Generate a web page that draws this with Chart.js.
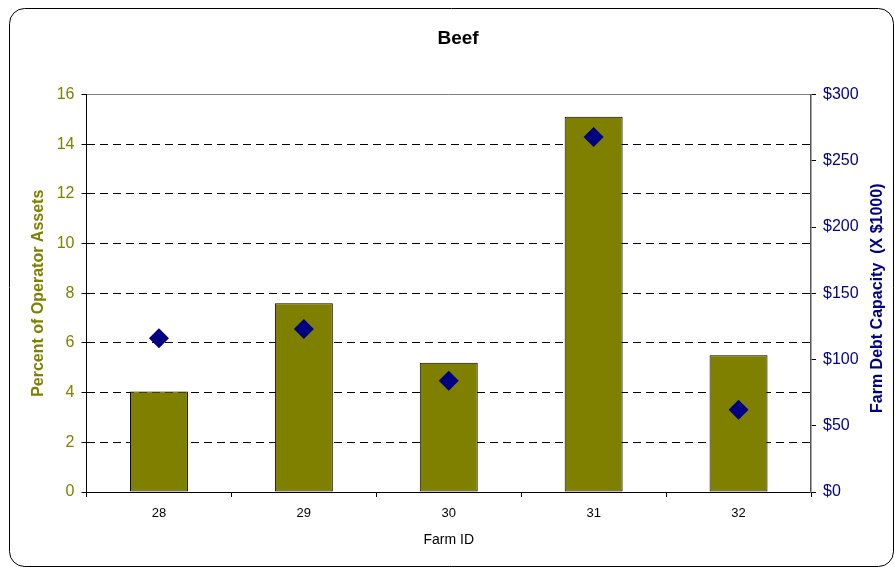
<!DOCTYPE html>
<html>
<head>
<meta charset="utf-8">
<script src="https://cdn.jsdelivr.net/npm/chart.js@4.4.7/dist/chart.umd.js"></script>
<style>
  html, body { margin: 0; padding: 0; background: #fff; }
  #wrap { position: relative; width: 894px; height: 567px; }
</style>
</head>
<body>
<div id="wrap"><canvas id="beefChart" width="894" height="567"></canvas></div>
<script>
// 数据
const farmIds = ["28", "29", "30", "31", "32"];
const operatorAssetsPct = [4.05, 7.6, 5.2, 15.1, 5.5];
const debtCapacity = [116, 123, 84, 268, 62];
const leftTicks = [0, 2, 4, 6, 8, 10, 12, 14, 16];
const rightTicks = [0, 50, 100, 150, 200, 250, 300];

const OLIVE = "#808000";
const NAVY = "#000080";
const FONT = "'Liberation Sans', Arial, sans-serif";

// 外框圆角矩形 + 右侧轴标题(自下而上)
const framePlugin = {
  id: "frame",
  beforeDraw(chart) {
    const ctx = chart.ctx;
    ctx.save();
    ctx.fillStyle = "#fff";
    ctx.fillRect(0, 0, chart.width, chart.height);
    ctx.beginPath();
    ctx.roundRect(9.5, 8.5, 884, 558, 15);
    ctx.strokeStyle = "#000";
    ctx.lineWidth = 1;
    ctx.stroke();
    ctx.restore();
  },
  afterDraw(chart) {
    const ctx = chart.ctx;
    const area = chart.chartArea;
    ctx.save();
    ctx.translate(877.5, (area.top + area.bottom) / 2 + 5);
    ctx.rotate(-Math.PI / 2);
    ctx.font = "bold 16px " + FONT;
    ctx.fillStyle = NAVY;
    ctx.textAlign = "center";
    ctx.textBaseline = "middle";
    ctx.fillText("Farm Debt Capacity  (X $1000)", 0, 0);
    ctx.restore();
  }
};

new Chart(document.getElementById("beefChart"), {
  type: "bar",
  data: {
    labels: farmIds,
    datasets: [
      {
        type: "line",
        label: "Farm Debt Capacity",
        data: debtCapacity,
        yAxisID: "y1",
        showLine: false,
        pointStyle: "rectRot",
        pointRadius: 10,
        pointBackgroundColor: NAVY,
        pointBorderColor: NAVY,
        pointBorderWidth: 0,
        order: 0
      },
      {
        label: "Percent of Operator Assets",
        data: operatorAssetsPct,
        yAxisID: "y",
        backgroundColor: OLIVE,
        borderColor: "#000",
        borderWidth: 1,
        borderSkipped: false,
        barPercentage: 0.4,
        categoryPercentage: 1.0,
        order: 1
      }
    ]
  },
  options: {
    responsive: false,
    animation: false,
    devicePixelRatio: 1,
    layout: { padding: { left: 22, right: 0, top: 0, bottom: 0 } },
    plugins: {
      legend: { display: false },
      tooltip: { enabled: false },
      title: {
        display: true,
        text: "Beef",
        color: "#000",
        font: { family: FONT, size: 19, weight: "bold" },
        padding: { top: 27, bottom: 44.7 }
      }
    },
    scales: {
      x: {
        offset: true,
        grid: {
          offset: true,
          drawOnChartArea: false,
          drawTicks: true,
          tickLength: 5,
          tickColor: "#000"
        },
        border: { color: "#000", width: 1 },
        ticks: {
          color: "#000",
          padding: 9,
          font: { family: FONT, size: 13 }
        },
        title: {
          display: true,
          text: "Farm ID",
          color: "#000",
          font: { family: FONT, size: 14 },
          padding: { top: 0, bottom: 18 }
        },
        afterFit(scale) { scale.height = 75; }
      },
      y: {
        position: "left",
        min: 0,
        max: 16,
        afterBuildTicks(scale) {
          scale.ticks = leftTicks.map(v => ({ value: v }));
        },
        grid: {
          color: ctx => (ctx.tick && (ctx.tick.value === 0 || ctx.tick.value === 16)) ? "rgba(0,0,0,0)" : "#000",
          tickColor: "#000",
          tickLength: 5,
          lineWidth: 1
        },
        border: { color: "#000", width: 1, dash: [8, 5] },
        ticks: {
          color: OLIVE,
          padding: 7,
          font: { family: FONT, size: 16 }
        },
        title: {
          display: true,
          text: "Percent of Operator Assets",
          color: OLIVE,
          font: { family: FONT, size: 16, weight: "bold" },
          padding: { top: 7 }
        },
        afterFit(scale) { scale.width = 64.5; }
      },
      y1: {
        position: "right",
        min: 0,
        max: 300,
        afterBuildTicks(scale) {
          scale.ticks = rightTicks.map(v => ({ value: v }));
        },
        grid: {
          drawOnChartArea: true,
          color: ctx => (ctx.tick && ctx.tick.value === 300) ? "#808080" : "rgba(0,0,0,0)",
          tickColor: "#000",
          tickLength: 5
        },
        border: { color: "#555", width: 1.5 },
        ticks: {
          color: NAVY,
          padding: 7,
          font: { family: FONT, size: 16 },
          callback: v => "$" + v
        },
        afterFit(scale) { scale.width = 83; }
      }
    }
  },
  plugins: [framePlugin]
});
</script>
</body>
</html>
